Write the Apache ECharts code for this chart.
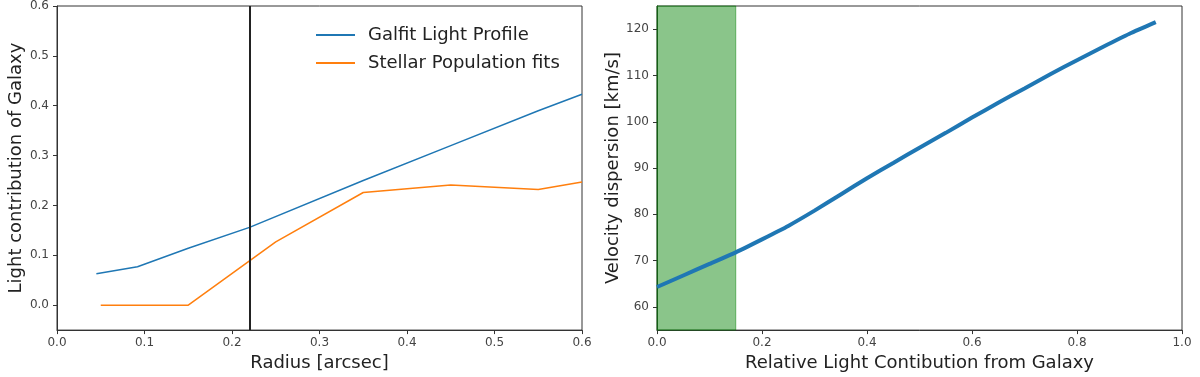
<!DOCTYPE html>
<html>
<head>
<meta charset="utf-8">
<script src="https://cdn.jsdelivr.net/npm/echarts@6/dist/echarts.min.js"></script>
<style>
  html, body { margin: 0; padding: 0; background: #fff; }
  #chart { width: 1200px; height: 377px; }
</style>
</head>
<body>
<div id="chart"></div>
<script>
// left panel: light contribution vs radius
const galfitRadius = [0.045, 0.092, 0.15, 0.22, 0.35, 0.45, 0.55, 0.6]
const galfitLight = [0.063, 0.077, 0.114, 0.156, 0.25, 0.32, 0.39, 0.423]
const stellarRadius = [0.05, 0.15, 0.25, 0.35, 0.45, 0.55, 0.6]
const stellarLight = [0, 0, 0.127, 0.226, 0.241, 0.232, 0.247]
const apertureRadius = 0.22
const lightTicks = [0, 0.1, 0.2, 0.3, 0.4, 0.5, 0.6]

// right panel: velocity dispersion vs relative light
const lightFraction = [0, 0.05, 0.1, 0.15, 0.2, 0.25, 0.3, 0.35, 0.4, 0.45, 0.5, 0.55, 0.6, 0.65, 0.7, 0.75, 0.8, 0.85, 0.9, 0.95]
const velocityDispersion = [64.3, 66.8, 69.3, 71.8, 74.6, 77.5, 80.8, 84.3, 87.8, 91.1, 94.4, 97.6, 100.9, 104.1, 107.2, 110.3, 113.3, 116.2, 119.0, 121.5]
const bandStart = 0
const bandEnd = 0.15
const sigmaTicks = [60, 70, 80, 90, 100, 110, 120]

const font = 'DejaVu Sans'
const frame = '#333'
const tickColor = '#444'

const chart = echarts.init(document.getElementById('chart'))

const baseX = (gridIndex, max, interval, name) => ({
    type: 'value',
    gridIndex,
    min: 0,
    max,
    interval,
    name,
    nameLocation: 'middle',
    nameGap: 21,
    nameTextStyle: { fontFamily: font, fontSize: 18, color: '#222' },
    axisLine: { show: true, onZero: false, lineStyle: { color: frame, width: 1 } },
    axisTick: { show: true, inside: false, length: 4, lineStyle: { color: frame } },
    axisLabel: {
        fontFamily: font, fontSize: 12, color: tickColor, margin: 7,
        formatter: v => v.toFixed(1)
    },
    splitLine: { show: false }
})

const baseY = (gridIndex, min, max, ticks, name, gap, fmt) => ({
    type: 'value',
    gridIndex,
    min,
    max,
    name,
    nameLocation: 'middle',
    nameGap: gap,
    nameTextStyle: { fontFamily: font, fontSize: 18, color: '#222' },
    axisLine: { show: true, onZero: false, lineStyle: { color: frame, width: 1 } },
    axisTick: { show: true, inside: false, length: 4, customValues: ticks, lineStyle: { color: frame } },
    axisLabel: {
        fontFamily: font, fontSize: 12, color: tickColor, margin: 8,
        customValues: ticks, formatter: fmt
    },
    splitLine: { show: false }
})

const option = {
    animation: false,
    backgroundColor: '#fff',
    grid: [
        { left: 57, width: 525, top: 6, height: 326, show: true, borderColor: frame, borderWidth: 1, backgroundColor: 'transparent' },
        { left: 657, width: 525, top: 6, height: 326, show: true, borderColor: frame, borderWidth: 1, backgroundColor: 'transparent' }
    ],
    legend: {
        left: 311,
        top: 20,
        orient: 'vertical',
        itemGap: 8,
        itemWidth: 39,
        itemHeight: 2,
        icon: 'rect',
        textStyle: { fontFamily: font, fontSize: 18, color: '#222', lineHeight: 20, padding: [0, 0, 0, 8] },
        data: ['Galfit Light Profile', 'Stellar Population fits']
    },
    xAxis: [
        baseX(0, 0.6, 0.1, 'Radius [arcsec]'),
        baseX(1, 1.0, 0.2, 'Relative Light Contibution from Galaxy')
    ],
    yAxis: [
        baseY(0, -0.05, 0.6, lightTicks, 'Light contribution of Galaxy', 32, v => v.toFixed(1)),
        baseY(1, 55, 125, sigmaTicks, 'Velocity dispersion [km/s]', 35, v => String(v))
    ],
    series: [
        {
            name: 'Galfit Light Profile',
            type: 'line',
            xAxisIndex: 0,
            yAxisIndex: 0,
            data: galfitRadius.map((r, i) => [r, galfitLight[i]]),
            showSymbol: false,
            color: '#1f77b4',
            lineStyle: { width: 1.5 },
            markLine: {
                silent: true,
                symbol: 'none',
                label: { show: false },
                lineStyle: { color: '#222', width: 2, type: 'solid' },
                data: [{ xAxis: apertureRadius }]
            }
        },
        {
            name: 'Stellar Population fits',
            type: 'line',
            xAxisIndex: 0,
            yAxisIndex: 0,
            data: stellarRadius.map((r, i) => [r, stellarLight[i]]),
            showSymbol: false,
            color: '#ff7f0e',
            lineStyle: { width: 1.5 }
        },
        {
            name: 'sigma',
            type: 'line',
            xAxisIndex: 1,
            yAxisIndex: 1,
            data: lightFraction.map((f, i) => [f, velocityDispersion[i]]),
            smooth: 0.2,
            showSymbol: false,
            color: '#1f77b4',
            lineStyle: { width: 4 },
            z: 3,
            markArea: {
                silent: true,
                itemStyle: { color: 'rgba(0,128,0,0.46)', borderColor: 'rgba(0,128,0,0.5)', borderWidth: 1 },
                data: [[{ xAxis: bandStart }, { xAxis: bandEnd }]]
            }
        }
    ]
}

chart.setOption(option)
</script>
</body>
</html>
